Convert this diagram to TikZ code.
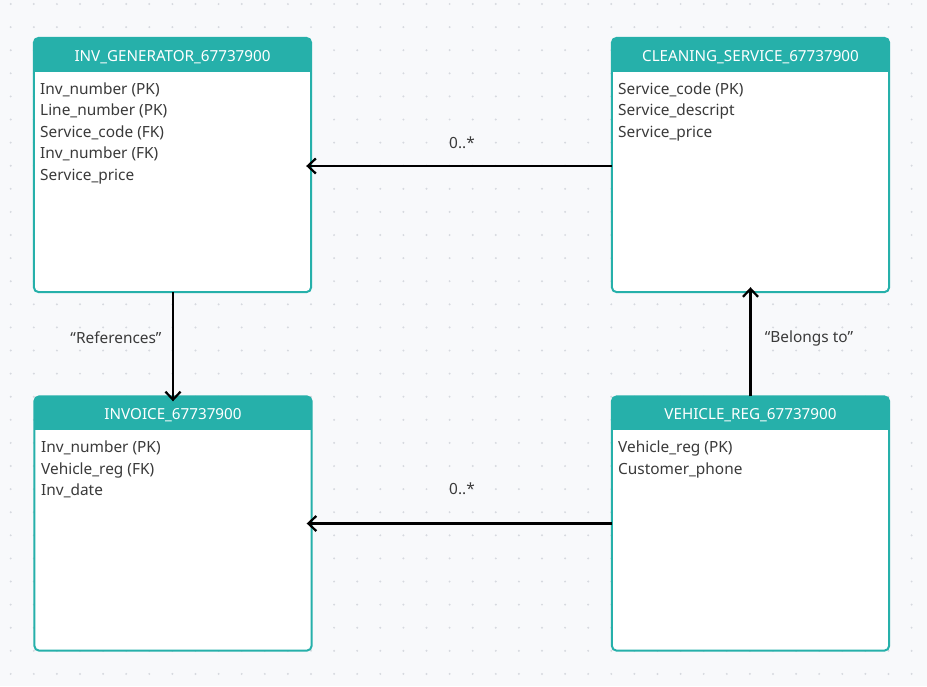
\documentclass[tikz,border=0pt]{standalone}
\usepackage{fontspec}
\setmainfont{Noto Sans}
\usetikzlibrary{arrows.meta}
\definecolor{bgc}{RGB}{248,249,251}
\definecolor{dotc}{RGB}{214,217,223}
\definecolor{hdr}{RGB}{38,176,170}
\definecolor{txt}{RGB}{58,58,58}
\tikzset{
  box/.style={draw=none, rectangle, minimum width=277pt, minimum height=254pt, inner sep=0pt},
  hdrtext/.style={text=white, font=\fontsize{15.2}{18}\selectfont, anchor=base, inner sep=0pt},
  attr/.style={text=txt, font=\fontsize{15.4}{18}\selectfont, anchor=base west, inner sep=0pt},
  lbl/.style={text=txt, font=\fontsize{15.4}{18}\selectfont, inner sep=0pt},
  conn/.style={line width=2.2pt, black, shorten >=-5pt, -{Straight Barb[length=8pt,width=15pt,line width=2.2pt]}}
}
\begin{document}
\begin{tikzpicture}[x=1pt,y=-1pt]
\fill[bgc] (0,0) rectangle (927,686);
\useasboundingbox (0,0) rectangle (927,686);
\foreach \i in {0,...,39} \foreach \j in {0,...,29}
  \fill[dotc] ({10.7+23.1*\i},{4+23.1*\j}) circle (1.1pt);

% boxes
\node[box] (invgen) at (172.5,165) {};
\node[box] (clean) at (750.5,165) {};
\node[box] (invoice) at (173,523.5) {};
\node[box] (vehicle) at (750.5,523.5) {};

\foreach \b in {invgen,clean,invoice,vehicle}{
  \begin{scope}
    \clip[rounded corners=5pt] (\b.south west) rectangle (\b.north east);
    \fill[white] (\b.south west) rectangle (\b.north east);
    \fill[hdr] (\b.north west) rectangle ([yshift=-34pt]\b.north east);
  \end{scope}
  \draw[hdr, line width=2pt, rounded corners=5pt] (\b.south west) rectangle (\b.north east);
}

% headers
\node[hdrtext] (h1) at (172.5,61.5) {INV\_GENERATOR\_67737900};
\node[hdrtext] (h2) at (750.5,61.5) {CLEANING\_SERVICE\_67737900};
\node[hdrtext] (h3) at (173,419.5) {INVOICE\_67737900};
\node[hdrtext] (h4) at (750.5,419.5) {VEHICLE\_REG\_67737900};

% attributes
\node[attr] (a1) at (40,94) {Inv\_number (PK)};
\node[attr] (a2) at (40,115.5) {Line\_number (PK)};
\node[attr] (a3) at (40,137) {Service\_code (FK)};
\node[attr] (a4) at (40,158.5) {Inv\_number (FK)};
\node[attr] (a5) at (40,180) {Service\_price};

\node[attr] (b1) at (618,94) {Service\_code (PK)};
\node[attr] (b2) at (618,115.5) {Service\_descript};
\node[attr] (b3) at (618,137) {Service\_price};

\node[attr] (c1) at (41,452.5) {Inv\_number (PK)};
\node[attr] (c2) at (41,474) {Vehicle\_reg (FK)};
\node[attr] (c3) at (41,495.5) {Inv\_date};

\node[attr] (d1) at (618,452.5) {Vehicle\_reg (PK)};
\node[attr] (d2) at (618,474) {Customer\_phone};

% connectors
\draw[conn] ([yshift=-1pt]clean.west) -- ([yshift=-1pt]invgen.east);
\draw[conn] (vehicle.west) -- (invoice.west -| invoice.east);
\draw[conn] (invgen.south -| invoice.north) -- (invoice.north);
\draw[conn] (vehicle.north) -- (clean.south);

% labels
\node[lbl] (l1) at (462,143) {0..*};
\node[lbl] (l2) at (462,489) {0..*};
\node[lbl] (l3) at (116,338) {“References”};
\node[lbl] (l4) at (809,338) {“Belongs to”};
\end{tikzpicture}
\end{document}
